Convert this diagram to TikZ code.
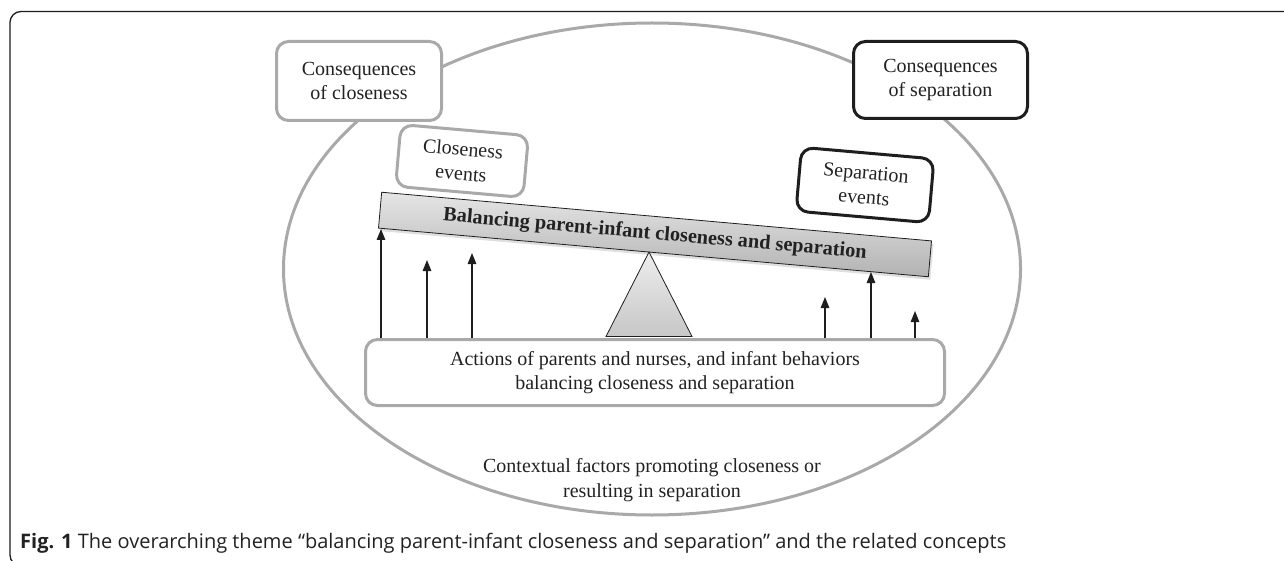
\documentclass[tikz,border=0pt]{standalone}
\usepackage{fontspec}
\setmainfont{Liberation Serif}
\newfontfamily\capfont{Open Sans}
\usetikzlibrary{arrows.meta,shadows,shapes.geometric}
\definecolor{lgray}{HTML}{A9A9A9}
\definecolor{dark}{HTML}{1E1E1E}
\definecolor{txtc}{HTML}{222222}
\begin{document}
\begin{tikzpicture}[x=1pt,y=1pt,
  txt/.style={font=\fontsize{20}{24.5}\selectfont, align=center, text=txtc},
  graybox/.style={txt, draw=lgray, line width=3pt, rounded corners=12pt, fill=white, inner sep=0pt},
  blackbox/.style={graybox, draw=dark},
  beamstyle/.style={draw=dark, line width=0.8pt, top color=black!10, bottom color=black!30,
     drop shadow={shadow xshift=2pt, shadow yshift=-3pt, opacity=0.25},
     font=\fontsize{20.3}{24}\selectfont\bfseries, text=txtc, inner sep=0pt},
  tri/.style={draw=dark, line width=0.8pt, top color=black!7, bottom color=black!22},
  arr/.style={dark, line width=1.3pt, -{Triangle[length=11pt,width=8.5pt]}}
]
\useasboundingbox (0,0) rectangle (1284,-561);
\fill[white] (0,0) rectangle (1284,-561);
% frame
\draw[line width=1.3pt, dark, rounded corners=11pt] (1300,-11.5) -- (10,-11.5) -- (10,-566) -- (40,-566);
% context ellipse
\node[ellipse, draw=lgray, line width=3pt, minimum width=737pt, minimum height=492pt, inner sep=0pt] (ell) at (652,-269) {};
\node[txt] (ctx) at (652,-480) {Contextual factors promoting closeness or\\resulting in separation};
% boxes
\node[graybox, minimum width=165pt, minimum height=79pt] (conclose) at (359,-81) {Consequences\\of closeness};
\node[blackbox, minimum width=174pt, minimum height=77pt] (consep) at (940.5,-80) {Consequences\\of separation};
\node[graybox, minimum width=128pt, minimum height=62pt, rotate=-5] (closeev) at (462,-161) {Closeness\\events};
\node[blackbox, minimum width=133pt, minimum height=64pt, rotate=-5] (sepev) at (865,-185) {Separation\\events};
% beam
\node[beamstyle, minimum width=552pt, minimum height=36pt, rotate=-5.06] (beam) at (655,-234.5) {Balancing parent-infant closeness and separation};
% fulcrum
\draw[tri] (649,-252) -- (692,-336.5) -- (606,-336.5) -- cycle;
% bottom box
\node[graybox, minimum width=579pt, minimum height=66pt] (act) at (655,-372.5) {Actions of parents and nurses, and infant behaviors\\balancing closeness and separation};
% arrows
\coordinate (t1) at (381,-338); \coordinate (h1) at (381,-229);
\coordinate (t2) at (427,-338); \coordinate (h2) at (427,-260);
\coordinate (t3) at (472,-338); \coordinate (h3) at (472,-253);
\coordinate (t4) at (825,-338); \coordinate (h4) at (825,-297);
\coordinate (t5) at (871,-338); \coordinate (h5) at (871,-272);
\coordinate (t6) at (915,-338); \coordinate (h6) at (915,-311);
\foreach \i in {1,...,6} {\draw[arr] (t\i) -- (h\i);}
% caption
\node[anchor=base west, font=\capfont\fontsize{20}{24}\selectfont, text=txtc, inner sep=0pt] (cap) at (20,-548) {\textbf{Fig. 1} The overarching theme “balancing parent-infant closeness and separation” and the related concepts};
\end{tikzpicture}
\end{document}
